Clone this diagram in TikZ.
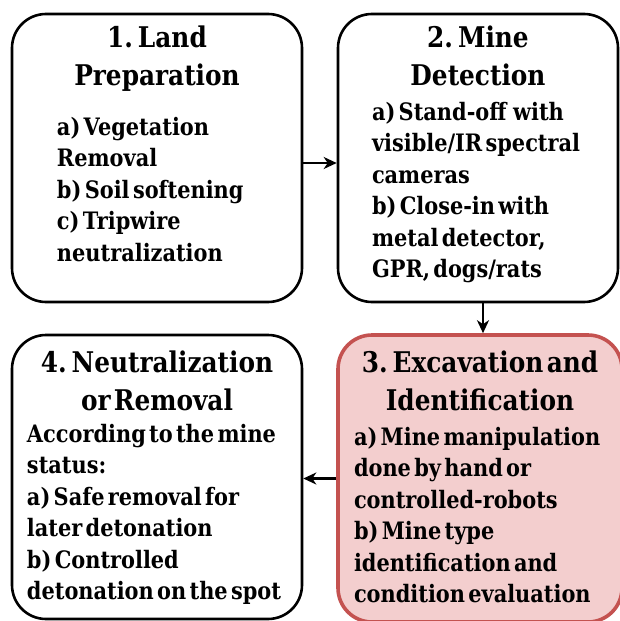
\documentclass[tikz,border=0pt]{standalone}
\usepackage{fontspec}
\setmainfont{DejaVu Serif}[FakeStretch=0.87]
\usepackage{xcolor}
\usepackage{tikz}
\usetikzlibrary{positioning,%
  arrows.meta,%
  calc}

\definecolor{stagered}{RGB}{196,82,80}
\definecolor{stagepink}{RGB}{243,206,206}

% #1 box height, #2 first baseline, #3 title, #4 gap, #5 indent, #6 items
\newcommand{\stagetext}[6]{%
  \parbox[c][#1][t]{\linewidth}{\bfseries
    {\centering\fontsize{28.5}{38.5}\selectfont\rule{0pt}{#2}#3\par}%
    \vspace{#4}%
    {\fontsize{24}{31.5}\selectfont\raggedright\leftskip=#5\relax #6\par}}}

\tikzset{
  stagebox/.style={draw=black, line width=2.6pt, rounded corners=34pt,
    inner sep=0pt, fill=white},
  hotbox/.style={stagebox, draw=stagered, line width=3.6pt, fill=stagepink},
  flowline/.style={line width=2.2pt, -{Stealth[length=13pt,width=12pt,inset=4pt]}}
}

\begin{document}
\begin{tikzpicture}[x=1pt,y=-1pt]
  \useasboundingbox (0,0) rectangle (620,621);

  \node[stagebox, text width=290pt, minimum height=288pt] (land) at (157,158)
    {\stagetext{288pt}{33pt}{1. Land\\Preparation}{18pt}{45pt}%
      {a) Vegetation\\Removal\\b) Soil softening\\c) Tripwire\\neutralization}};
  \node[stagebox, text width=280pt, minimum height=288pt] (detect) at (478,158)
    {\stagetext{288pt}{33pt}{2. Mine\\Detection}{3pt}{34pt}%
      {a) Stand-off\ \ with\\visible/IR spectral\\cameras\\b) Close-in with\\metal detector,\\GPR, dogs/rats}};
  \node[hotbox, text width=284pt, minimum height=287pt] (excav) at (480,478.5)
    {\stagetext{287pt}{37pt}{3. Excavation and\\Identification}{3pt}{16pt}%
      {a) Mine manipulation\\done by hand or\\controlled-robots\\b) Mine type\\identification and\\condition evaluation}};
  \node[stagebox, text width=290pt, minimum height=284pt] (neutral) at (157,477)
    {\stagetext{284pt}{37pt}{4. Neutralization\\or Removal}{0pt}{15pt}%
      {According to the mine\\status:\\a) Safe removal for\\later detonation\\b) Controlled\\detonation on the spot}};

  \draw[flowline] ([yshift=-5pt]land.east) -- ([yshift=-5pt]land.east -| detect.west);
  \draw[flowline] ([xshift=5pt]detect.south) -- ([xshift=5pt]detect.south |- excav.north);
  \draw[flowline] (excav.west) -- (excav.west -| neutral.east);
\end{tikzpicture}
\end{document}
